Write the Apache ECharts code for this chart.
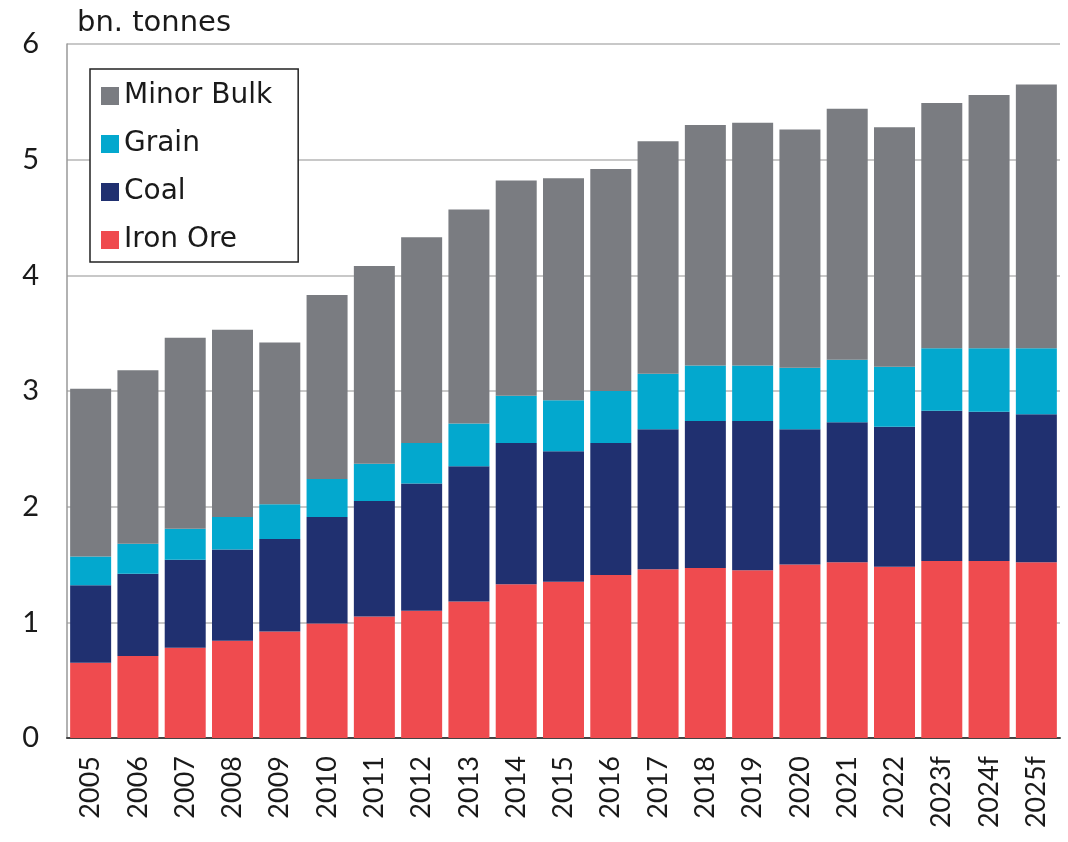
<!DOCTYPE html>
<html>
<head>
<meta charset="utf-8">
<script src="https://cdn.jsdelivr.net/npm/echarts@6/dist/echarts.min.js"></script>
<style>
  html, body { margin: 0; padding: 0; background: #fff; }
  #chart { width: 1068px; height: 842px; }
</style>
</head>
<body>
<div id="chart"></div>
<script>
// 연도 (f = forecast)
const categories = ['2005', '2006', '2007', '2008', '2009', '2010', '2011', '2012', '2013', '2014',
  '2015', '2016', '2017', '2018', '2019', '2020', '2021', '2022', '2023f', '2024f', '2025f'];

// bn. tonnes
const ironOre = [0.65, 0.71, 0.78, 0.84, 0.92, 0.99, 1.05, 1.10, 1.18, 1.33,
  1.35, 1.41, 1.46, 1.47, 1.45, 1.50, 1.52, 1.48, 1.53, 1.53, 1.52];
const coal = [0.67, 0.71, 0.76, 0.79, 0.80, 0.92, 1.00, 1.10, 1.17, 1.22,
  1.13, 1.14, 1.21, 1.27, 1.29, 1.17, 1.21, 1.21, 1.30, 1.29, 1.28];
const grain = [0.25, 0.26, 0.27, 0.28, 0.30, 0.33, 0.32, 0.35, 0.37, 0.41,
  0.44, 0.45, 0.48, 0.48, 0.48, 0.53, 0.54, 0.52, 0.54, 0.55, 0.57];
const minorBulk = [1.45, 1.50, 1.65, 1.62, 1.40, 1.59, 1.71, 1.78, 1.85, 1.86,
  1.92, 1.92, 2.01, 2.08, 2.10, 2.06, 2.17, 2.07, 2.12, 2.19, 2.28];

const yTicks = [0, 1, 2, 3, 4, 5, 6];

const FONT = 'Lato, "Noto Sans", sans-serif';
const WIDE_FONT = '"DejaVu Sans", sans-serif'; // 원본 폰트가 넓어서

const chart = echarts.init(document.getElementById('chart'));

const makeBar = (name, data, color) => ({
  name,
  type: 'bar',
  stack: 'total',
  data,
  barWidth: 41,
  itemStyle: { color },
  emphasis: { disabled: true },
});

chart.setOption({
  animation: false,
  title: {
    text: 'bn. tonnes',
    left: 72,
    top: 4,
    textStyle: { fontFamily: WIDE_FONT, fontSize: 29, fontWeight: 'normal', color: '#1a1a1a' },
  },
  legend: {
    orient: 'vertical',
    left: 90,
    top: 69,
    data: ['Minor Bulk', 'Grain', 'Coal', 'Iron Ore'],
    icon: 'rect',
    itemWidth: 18,
    itemHeight: 18,
    itemGap: 20,
    padding: [13, 26, 8, 11],
    borderColor: '#222',
    borderWidth: 1.5,
    backgroundColor: '#fff',
    textStyle: { fontFamily: WIDE_FONT, fontSize: 28, color: '#1a1a1a', lineHeight: 28 },
  },
  grid: {
    left: 67,
    right: 8,
    top: 44,
    bottom: 104,
  },
  xAxis: {
    type: 'category',
    data: categories,
    axisTick: { show: false },
    axisLine: { lineStyle: { color: '#444', width: 2 } },
    axisLabel: {
      rotate: 90,
      margin: 18,
      fontFamily: FONT,
      fontSize: 27,
      color: '#1a1a1a',
    },
  },
  yAxis: {
    type: 'value',
    min: yTicks[0],
    max: yTicks[yTicks.length - 1],
    interval: 1,
    axisLine: { show: true, lineStyle: { color: '#999', width: 1.5 } },
    axisTick: { show: false },
    splitLine: { lineStyle: { color: '#c8c8c8', width: 2 } },
    axisLabel: {
      margin: 28,
      fontFamily: FONT,
      fontSize: 29,
      color: '#1a1a1a',
    },
  },
  series: [
    makeBar('Iron Ore', ironOre, '#ef4b4f'),
    makeBar('Coal', coal, '#203070'),
    makeBar('Grain', grain, '#03a8ce'),
    makeBar('Minor Bulk', minorBulk, '#7a7c81'),
  ],
});
</script>
</body>
</html>
